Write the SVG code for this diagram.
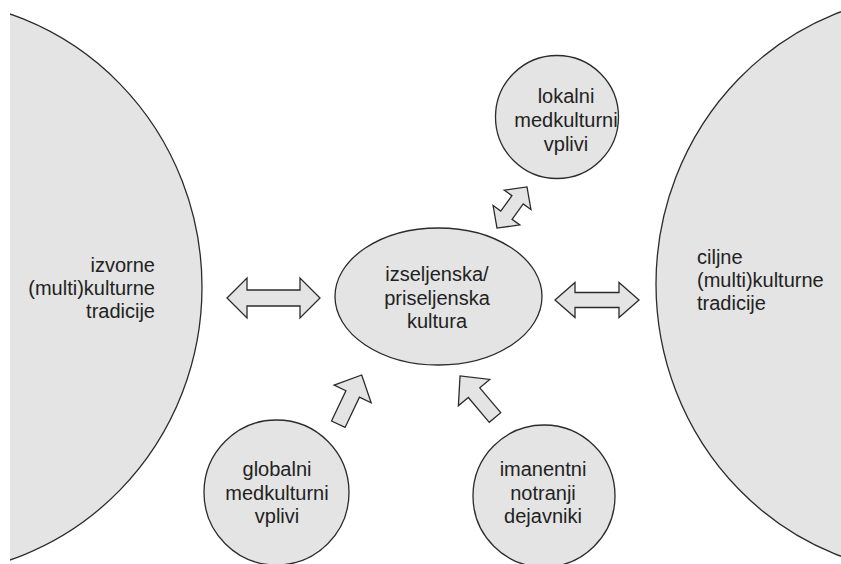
<svg xmlns="http://www.w3.org/2000/svg" width="841" height="564" viewBox="0 0 841 564">
<style>
.n{fill:#e4e4e4;stroke:#2b2b2b;stroke-width:1.3}
.a{fill:#e4e4e4;stroke:#2b2b2b;stroke-width:1.3;stroke-linejoin:miter}
text{font-family:"Liberation Sans",Arial,sans-serif;font-size:20px;fill:#222}
.c{text-anchor:middle}
.e{text-anchor:end}
</style>
<defs>
<clipPath id="clipL"><rect x="10" y="0" width="831" height="564"/></clipPath>
</defs>
<rect width="841" height="564" fill="#fff"/>
<g id="izvorne">
<ellipse class="n" cx="-80" cy="287" rx="282" ry="288" clip-path="url(#clipL)"/>
<text class="e" x="155"><tspan x="155" y="272">izvorne</tspan><tspan x="155" y="295">(multi)kulturne</tspan><tspan x="155" y="318">tradicije</tspan></text>
</g>
<g id="ciljne">
<ellipse class="n" cx="938" cy="284" rx="282" ry="290"/>
<text x="697"><tspan x="697" y="264">ciljne</tspan><tspan x="697" y="287">(multi)kulturne</tspan><tspan x="697" y="310">tradicije</tspan></text>
</g>
<g id="center">
<ellipse class="n" cx="438.5" cy="296.5" rx="103.5" ry="68.5"/>
<text class="c"><tspan x="437" y="281">izseljenska/</tspan><tspan x="437" y="304.5">priseljenska</tspan><tspan x="437" y="328">kultura</tspan></text>
</g>
<g id="lokalni">
<circle class="n" cx="557" cy="117" r="61.5"/>
<text class="c"><tspan x="566" y="103">lokalni</tspan><tspan x="566" y="127">medkulturni</tspan><tspan x="566" y="151">vplivi</tspan></text>
</g>
<g id="globalni">
<circle class="n" cx="276.5" cy="492.5" r="72.5"/>
<text class="c"><tspan x="277" y="476">globalni</tspan><tspan x="277" y="499.5">medkulturni</tspan><tspan x="277" y="523">vplivi</tspan></text>
</g>
<g id="imanentni">
<circle class="n" cx="544" cy="496" r="71"/>
<text class="c"><tspan x="543" y="476">imanentni</tspan><tspan x="543" y="499.5">notranji</tspan><tspan x="543" y="523">dejavniki</tspan></text>
</g>
<g id="connectors">
<path class="a" transform="translate(273.5,298)" d="M-46.5,0 L-26.5,-20 L-26.5,-8 L26.5,-8 L26.5,-20 L46.5,0 L26.5,20 L26.5,8 L-26.5,8 L-26.5,20 Z"/>
<path class="a" transform="translate(597,300)" d="M-42,0 L-22,-17.5 L-22,-7.5 L22,-7.5 L22,-17.5 L42,0 L22,17.5 L22,7.5 L-22,7.5 L-22,17.5 Z"/>
<path class="a" transform="translate(512,207.5) rotate(-54)" d="M-25.5,0 L-9.5,-16.5 L-9.5,-7 L9.5,-7 L9.5,-16.5 L25.5,0 L9.5,16.5 L9.5,7 L-9.5,7 L-9.5,16.5 Z"/>
<path class="a" transform="translate(338.3,424.2) rotate(-64.6)" d="M0,-7.5 L33.5,-7.5 L33.5,-20.5 L54.5,0 L33.5,20.5 L33.5,7.5 L0,7.5 Z"/>
<path class="a" transform="translate(495,417.5) rotate(-130.1)" d="M0,-7.5 L32.5,-7.5 L32.5,-20.5 L54.3,0 L32.5,20.5 L32.5,7.5 L0,7.5 Z"/>
</g>
</svg>
